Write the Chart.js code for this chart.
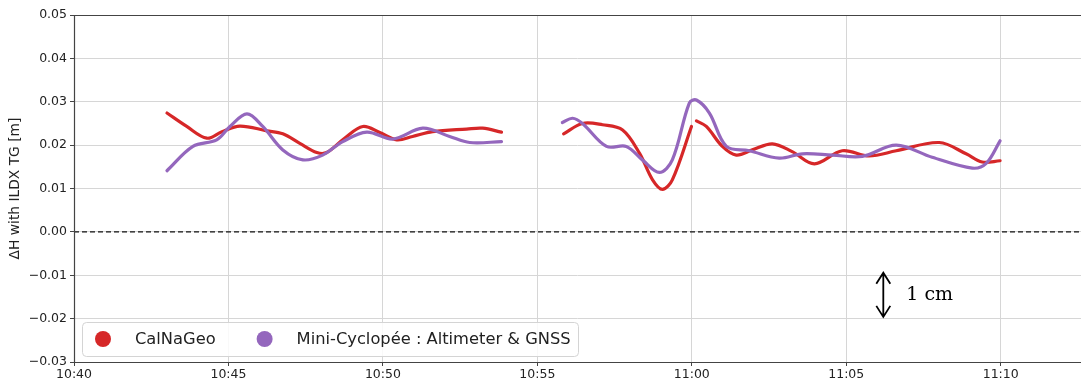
<!DOCTYPE html>
<html>
<head>
<meta charset="utf-8">
<script src="https://cdn.jsdelivr.net/npm/chart.js@4/dist/chart.umd.min.js"></script>
<style>
  html, body { margin: 0; padding: 0; background: #fff; }
  #wrap { width: 1081px; height: 381px; position: relative; }
</style>
</head>
<body>
<div id="wrap"><canvas id="chart"></canvas></div>
<script>
// x values are minutes after 10:40
const xTickValues = [0, 5, 10, 15, 20, 25, 30];
const xTickLabels = ["10:40", "10:45", "10:50", "10:55", "11:00", "11:05", "11:10"];
const yTickValues = [-0.03, -0.02, -0.01, 0.00, 0.01, 0.02, 0.03, 0.04, 0.05];

const seriesNames = ["CalNaGeo", "Mini-Cyclopée : Altimeter & GNSS"];
const seriesColors = ["#d62728", "#9467bd"];

// CalNaGeo (red), three pieces
const calTime1 = [3.01, 3.65, 4.30, 4.79, 5.37, 6.24, 6.76, 7.31, 7.86, 8.18, 8.76, 9.35, 9.90, 10.45, 10.96, 11.61, 12.71, 13.23, 13.84];
const calVal1  = [0.0274, 0.0243, 0.0216, 0.0231, 0.0244, 0.0233, 0.0226, 0.0204, 0.0183, 0.0183, 0.0216, 0.0243, 0.0229, 0.0212, 0.0220, 0.0231, 0.0237, 0.0239, 0.0230];
const calTime2 = [15.85, 16.46, 17.11, 17.76, 18.31, 18.73, 19.05, 19.37, 19.99];
const calVal2  = [0.0226, 0.0250, 0.0247, 0.0235, 0.0181, 0.0120, 0.0098, 0.0120, 0.0243];
const calTime3 = [20.15, 20.47, 20.99, 21.44, 21.96, 22.61, 23.25, 23.97, 24.87, 25.74, 26.62, 28.01, 28.88, 29.40, 29.98];
const calVal3  = [0.0256, 0.0243, 0.0197, 0.0177, 0.0189, 0.0203, 0.0185, 0.0157, 0.0187, 0.0175, 0.0187, 0.0206, 0.0180, 0.0161, 0.0164];

// Mini-Cyclopée (purple), two pieces
const mcTime1 = [3.01, 3.85, 4.62, 5.05, 5.60, 6.11, 6.76, 7.41, 8.05, 8.70, 9.48, 10.32, 11.29, 12.16, 12.81, 13.84];
const mcVal1  = [0.0141, 0.0197, 0.0212, 0.0243, 0.0272, 0.0243, 0.0189, 0.0166, 0.0177, 0.0208, 0.0230, 0.0214, 0.0239, 0.0220, 0.0206, 0.0208];
const mcTime2 = [15.81, 16.14, 16.46, 17.24, 17.88, 18.40, 18.95, 19.37, 19.92, 20.15, 20.57, 21.12, 21.86, 22.83, 23.58, 24.55, 25.52, 26.62, 27.78, 29.08, 29.53, 29.98];
const mcVal2  = [0.0252, 0.0262, 0.0250, 0.0197, 0.0197, 0.0166, 0.0137, 0.0166, 0.0297, 0.0304, 0.0274, 0.0197, 0.0187, 0.0170, 0.0180, 0.0177, 0.0174, 0.0200, 0.0172, 0.0147, 0.0158, 0.0210];

// 1 cm scale bar
const scaleBarTime = 26.2;
const scaleBarFrom = -0.0094;
const scaleBarTo = -0.0196;
const scaleBarText = "1 cm";

const xMin = 0, xMax = 32.6;

const buildPieces = (pieces) => {
  const out = [];
  pieces.forEach(([times, vals], i) => {
    if (i > 0) out.push({ x: times[0] - 0.05, y: null });
    times.forEach((t, j) => out.push({ x: t, y: vals[j] }));
  });
  return out;
};

const fmtY = (v) => {
  const s = (Math.abs(v) < 1e-9 ? 0 : v).toFixed(2);
  return s.replace("-", "\u2212");
};

const framePlugin = {
  id: "frame",
  afterDatasetsDraw(chart) {
    const { ctx, chartArea: a, scales } = chart;
    ctx.save();
    // scale bar annotation
    const x = scales.x.getPixelForValue(scaleBarTime);
    const y1 = scales.y.getPixelForValue(scaleBarFrom);
    const y2 = scales.y.getPixelForValue(scaleBarTo);
    ctx.strokeStyle = "#000";
    ctx.lineWidth = 1.8;
    ctx.beginPath();
    ctx.moveTo(x, y1); ctx.lineTo(x, y2);
    ctx.moveTo(x - 7, y1 + 11); ctx.lineTo(x, y1); ctx.lineTo(x + 7, y1 + 11);
    ctx.moveTo(x - 7, y2 - 11); ctx.lineTo(x, y2); ctx.lineTo(x + 7, y2 - 11);
    ctx.stroke();
    ctx.fillStyle = "#000";
    ctx.font = "19px 'DejaVu Serif', 'Liberation Serif', serif";
    ctx.textBaseline = "middle";
    ctx.textAlign = "left";
    ctx.fillText(scaleBarText, x + 23, (y1 + y2) / 2);

    // legend box
    const bx = a.left + 8, bh = 34, by = a.bottom - 6 - bh, bw = 496;
    ctx.fillStyle = "rgba(255,255,255,0.85)";
    ctx.strokeStyle = "#d4d4d4";
    ctx.lineWidth = 1;
    ctx.beginPath();
    ctx.roundRect(bx + 0.5, by + 0.5, bw, bh, 4);
    ctx.fill();
    ctx.stroke();
    ctx.font = "16.3px 'DejaVu Sans', sans-serif";
    ctx.textBaseline = "middle";
    let cx = bx + 21;
    const cy = by + bh / 2;
    seriesNames.forEach((name, i) => {
      ctx.fillStyle = seriesColors[i];
      ctx.beginPath();
      ctx.arc(cx, cy, 8, 0, Math.PI * 2);
      ctx.fill();
      ctx.fillStyle = "#222";
      ctx.fillText(name, cx + 32, cy + 1);
      cx += 32 + ctx.measureText(name).width + 49;
    });

    // frame
    ctx.strokeStyle = "#444";
    ctx.lineWidth = 1.2;
    ctx.beginPath();
    ctx.moveTo(a.right, a.top + 0.5);
    ctx.lineTo(a.left + 0.5, a.top + 0.5);
    ctx.lineTo(a.left + 0.5, a.bottom + 0.5);
    ctx.lineTo(a.right, a.bottom + 0.5);
    ctx.stroke();
    ctx.restore();
  }
};

const ctx = document.getElementById("chart").getContext("2d");
new Chart(ctx, {
  type: "line",
  data: {
    datasets: [
      {
        label: seriesNames[0],
        data: buildPieces([[calTime1, calVal1], [calTime2, calVal2], [calTime3, calVal3]]),
        borderColor: seriesColors[0],
        borderWidth: 3.2,
        pointRadius: 0,
        tension: 0.35,
        spanGaps: false,
        borderCapStyle: "round",
        borderJoinStyle: "round",
        order: 2,
      },
      {
        label: seriesNames[1],
        data: buildPieces([[mcTime1, mcVal1], [mcTime2, mcVal2]]),
        borderColor: seriesColors[1],
        borderWidth: 3.2,
        pointRadius: 0,
        tension: 0.35,
        spanGaps: false,
        borderCapStyle: "round",
        borderJoinStyle: "round",
        order: 1,
      },
      {
        label: "zero",
        data: [{ x: xMin, y: 0 }, { x: xMax, y: 0 }],
        borderColor: "#111",
        borderWidth: 1.3,
        borderDash: [5, 3],
        pointRadius: 0,
        order: 3,
      },
    ],
  },
  options: {
    responsive: true,
    maintainAspectRatio: false,
    animation: false,
    layout: { padding: { top: 15, right: 0, left: 0, bottom: 0 } },
    plugins: {
      legend: { display: false },
      tooltip: { enabled: false },
    },
    scales: {
      x: {
        type: "linear",
        min: xMin,
        max: xMax,
        afterBuildTicks: (scale) => {
          scale.ticks = xTickValues.map((v) => ({ value: v }));
        },
        afterFit: (scale) => { scale.height = 19; },
        ticks: {
          autoSkip: false,
          maxRotation: 0,
          padding: 1,
          color: "#222",
          font: { family: "'DejaVu Sans', sans-serif", size: 12.5 },
          callback: (v) => {
            const i = xTickValues.indexOf(v);
            return i >= 0 ? xTickLabels[i] : "";
          },
        },
        grid: {
          color: "#d6d6d6",
          lineWidth: 1,
          tickColor: "#444",
          tickLength: 4,
        },
        border: { display: false },
      },
      y: {
        min: -0.03,
        max: 0.05,
        afterBuildTicks: (scale) => {
          scale.ticks = yTickValues.map((v) => ({ value: v }));
        },
        afterFit: (scale) => { scale.width = 74; },
        title: {
          display: true,
          text: "\u0394H with ILDX TG [m]",
          color: "#222",
          font: { family: "'DejaVu Sans', sans-serif", size: 13.8 },
          padding: { top: 7, bottom: 2 },
        },
        ticks: {
          padding: 3,
          color: "#222",
          font: { family: "'DejaVu Sans', sans-serif", size: 12.5 },
          callback: (v) => fmtY(v),
        },
        grid: {
          color: "#d6d6d6",
          lineWidth: 1,
          tickColor: "#444",
          tickLength: 4,
        },
        border: { display: false },
      },
    },
  },
  plugins: [framePlugin],
});
</script>
</body>
</html>
